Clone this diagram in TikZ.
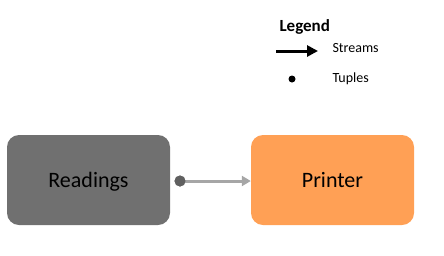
\documentclass[tikz,border=0pt]{standalone}
\usepackage{fontspec}
\setmainfont{Carlito}
\usetikzlibrary{arrows.meta}

\definecolor{opgray}{HTML}{707070}
\definecolor{oporange}{HTML}{FFA055}
\definecolor{linkgray}{HTML}{A6A6A6}
\definecolor{dotgray}{HTML}{606060}

\begin{document}
\begin{tikzpicture}[
    x=1pt, y=-1pt,
    op/.style={rounded corners=12pt, minimum width=163pt, minimum height=90pt, font=\fontsize{22}{26}\selectfont, inner sep=0pt, text depth=0pt},
    stream/.style={-{Triangle[length=9pt,width=10pt]}, line width=3pt, draw=linkgray},
    tuple/.style={circle, fill=dotgray, inner sep=0pt, minimum size=11pt},
    legtext/.style={anchor=west, font=\fontsize{14}{16}\selectfont}
]
\useasboundingbox (0,0) rectangle (444,255);

% operators
\node[op, fill=opgray] at (88.5,180) (readings) {Readings};
\node[op, fill=oporange] at (332.5,180) (printer) {Printer};

% connection between them
\node[tuple] at (180,181) (dot) {};
\draw[stream] (dot.center) -- (printer.west |- dot.center);
\node[tuple] at (180,181) {};

% legend
\node[anchor=west, font=\fontsize{17}{20}\selectfont\bfseries] at (276,27) (legend) {Legend};
\coordinate (arrstart) at (276,51);
\coordinate (arrend) at (318,51);
\draw[-{Triangle[length=11pt,width=11pt]}, line width=3pt] (arrstart) -- (arrend);
\node[legtext] at (329,48) (streams) {Streams};
\node[circle, fill=black, inner sep=0pt, minimum size=7pt] at (292,79) (legdot) {};
\node[legtext] at (329,79) (tuples) {Tuples};
\end{tikzpicture}
\end{document}
